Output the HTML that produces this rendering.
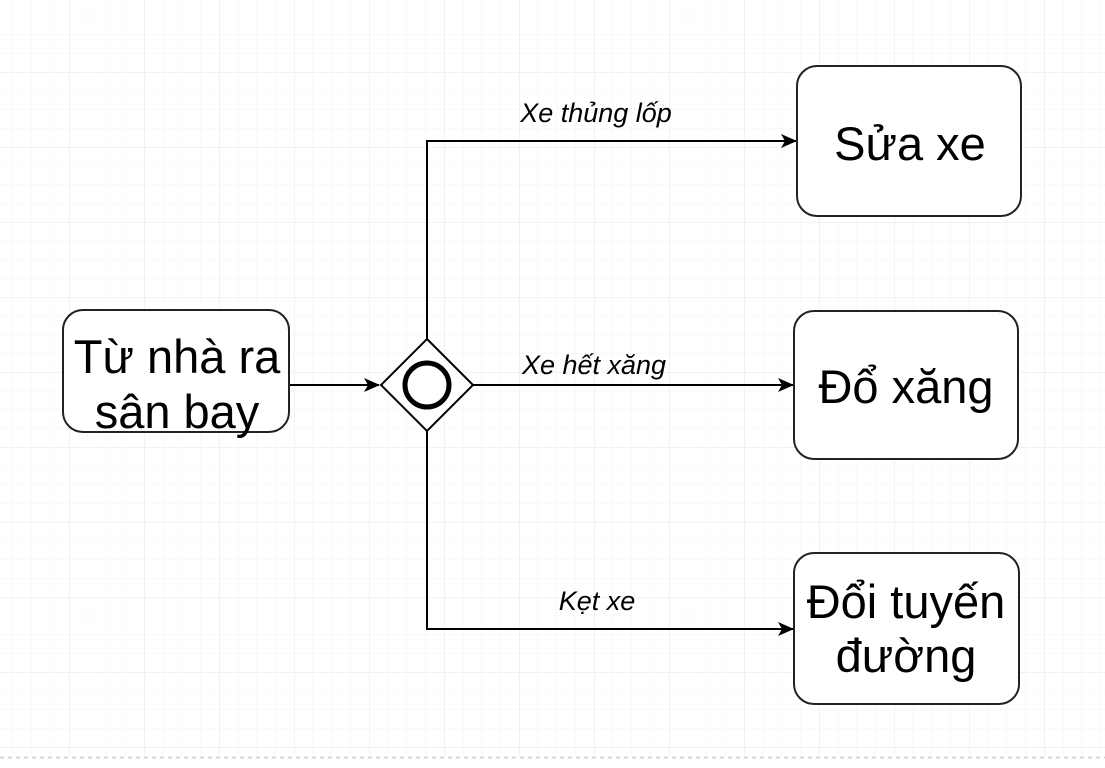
<!DOCTYPE html>
<html><head><meta charset="utf-8"><style>
html,body{margin:0;padding:0;background:#fff;}
svg{display:block;}
text{font-family:"Liberation Sans",Arial,sans-serif;fill:#000;}
</style></head><body>
<svg width="1105" height="768" viewBox="0 0 1105 768" xmlns="http://www.w3.org/2000/svg">
<defs>
<pattern id="minor" x="-6" y="-3" width="18.75" height="18.75" patternUnits="userSpaceOnUse">
<path d="M0 0H18.75M0 0V18.75" stroke="#f3f3f3" stroke-width="1" fill="none"/>
</pattern>
<pattern id="major" x="-6" y="-3" width="75" height="75" patternUnits="userSpaceOnUse">
<path d="M0 0H75M0 0V75" stroke="#e6e6e6" stroke-width="1" fill="none"/>
</pattern>
<marker id="ar" markerWidth="16" markerHeight="14" refX="15" refY="7" orient="auto" markerUnits="userSpaceOnUse">
<path d="M0 0 L16 7 L0 14 L4 7 Z" fill="#000"/>
</marker>
</defs>
<rect x="0" y="0" width="1105" height="757" fill="url(#minor)"/>
<rect x="0" y="0" width="1105" height="757" fill="url(#major)"/>
<line x1="0" y1="757.5" x2="1105" y2="757.5" stroke="#c8c8c8" stroke-width="1.5" stroke-dasharray="4 4"/>

<g stroke="#000" stroke-width="2" fill="none">
<path d="M289 385 H379" marker-end="url(#ar)"/>
<path d="M427 339 V141 H796" marker-end="url(#ar)"/>
<path d="M473 385 H793" marker-end="url(#ar)"/>
<path d="M427 431 V629 H793" marker-end="url(#ar)"/>
</g>

<g stroke="#222" stroke-width="2" fill="#fff">
<rect x="63" y="310" width="226" height="122" rx="20"/>
<rect x="797" y="66" width="224" height="150" rx="20"/>
<rect x="794" y="311" width="224" height="148" rx="20"/>
<rect x="794" y="553" width="225" height="151" rx="20"/>
</g>
<path d="M427 339 L473 385 L427 431 L381 385 Z" fill="#fff" stroke="#000" stroke-width="2"/>
<circle cx="427" cy="385" r="22" fill="none" stroke="#000" stroke-width="5"/>

<g font-size="47" text-anchor="middle">
<text x="177" y="373">Từ nhà ra</text>
<text x="177" y="428">sân bay</text>
<text x="910" y="160">Sửa xe</text>
<text x="906" y="403">Đổ xăng</text>
<text x="906" y="618">Đổi tuyến</text>
<text x="906" y="672">đường</text>
</g>
<g font-size="27" font-style="italic" text-anchor="middle">
<text x="596" y="122">Xe thủng lốp</text>
<text x="594" y="374">Xe hết xăng</text>
<text x="597" y="610">Kẹt xe</text>
</g>
</svg>
</body></html>
